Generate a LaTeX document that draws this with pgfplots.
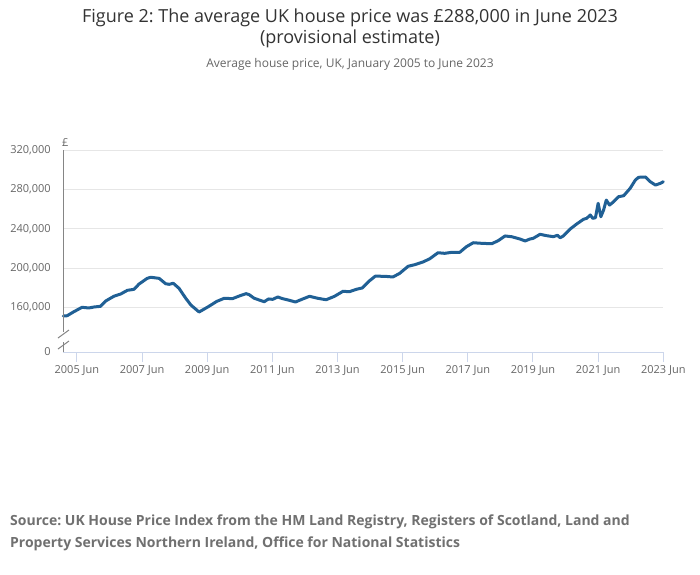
\documentclass[border=0pt]{standalone}
\usepackage{pgfplots}
\pgfplotsset{compat=1.18}
\usepackage{fontspec}
\setmainfont{Open Sans}
\frenchspacing
\definecolor{onsblue}{HTML}{206095}
\definecolor{gridgray}{HTML}{E6E6E6}
\definecolor{axblue}{HTML}{CCD6EB}
\definecolor{labgray}{HTML}{666666}
\definecolor{titlegray}{HTML}{333333}
\definecolor{srcgray}{HTML}{707070}
\begin{document}
\begin{tikzpicture}
\fill[white] (0,0) rectangle (700pt,-574pt);
\useasboundingbox (0,0) rectangle (700pt,-574pt);
\node[text=titlegray,font=\fontsize{18}{21}\selectfont] at (350pt,-18pt) {Figure 2: The average UK house price was £288,000 in June 2023};
\node[text=titlegray,font=\fontsize{18}{21}\selectfont] at (350pt,-39pt) {(provisional estimate)};
\node[text=labgray,font=\fontsize{12}{14}\selectfont] at (350pt,-64pt) {Average house price, UK, January 2005 to June 2023};
\node[text=labgray,font=\fontsize{11}{13}\selectfont,anchor=south west,inner sep=0pt] at (62pt,-147pt) {£};
\begin{axis}[
  at={(63.3pt,-352pt)}, anchor=south west,
  scale only axis, width=600pt, height=201.7pt,
  xmin=0, xmax=221, ymin=114430, ymax=320000,
  axis x line=bottom, axis y line=left,
  x axis line style={-, draw=axblue, line width=1pt},
  y axis line style={draw=none},
  xtick={5,29,53,77,101,125,149,173,197,221},
  xticklabels={2005 Jun,2007 Jun,2009 Jun,2011 Jun,2013 Jun,2015 Jun,2017 Jun,2019 Jun,2021 Jun,2023 Jun},
  xtick align=outside,
  major tick length=10pt,
  xtick style={draw=axblue, line width=1pt},
  ytick={160000,200000,240000,280000,320000},
  yticklabels={{160,000},{200,000},{240,000},{280,000},{320,000}},
  scaled y ticks=false,
  extra y ticks={114430}, extra y tick labels={0},
  extra y tick style={grid=none},
  ytick style={draw=none},
  ymajorgrids, grid style={gridgray, line width=1pt},
  tick label style={text=labgray, font=\fontsize{11}{13}\selectfont},
  yticklabel style={xshift=-4pt},
  /pgf/number format/assume math mode=true,
  clip=false,
]
\addplot[color=onsblue, line width=3pt, line join=round, line cap=round] table {
x y
0 151100
1.4 151400
3.9 155500
6.9 160000
9.4 159300
11.3 160300
13.7 161000
15.6 166400
18.6 171200
21.1 173500
23.6 177300
26.0 178300
27.9 183700
30.9 189500
32.2 190600
35.3 189500
37.7 184000
39.0 183400
40.5 184500
42.6 179400
45.1 169200
47.0 162300
50.0 155200
53.4 160600
56.5 166000
59.3 169200
62.3 168800
64.8 171500
67.3 173900
68.5 172800
70.3 169200
72.2 167400
74.0 165700
75.6 168500
77.1 168100
79.0 170500
80.8 168800
83.3 167100
85.5 165400
88.2 168500
90.7 171200
93.7 169200
96.8 167700
99.9 171200
103.0 176300
105.4 175900
107.9 178300
110.1 179700
112.5 186400
114.9 191700
118.4 191600
121.4 190900
123.9 194600
127.0 201800
129.4 203400
132.5 206200
135.0 209500
138.0 215600
140.5 215000
143.0 216000
146.0 216000
148.5 221800
151.0 225800
154.1 225200
157.8 224800
160.2 227900
162.7 232700
165.2 231900
168.2 229600
170.1 227600
171.9 229600
173.1 230300
175.6 234400
178.0 233000
180.5 232000
182.0 233400
183.0 230900
184.2 232700
186.7 239800
189.1 244900
191.6 249700
192.8 250700
194.1 254100
195.0 250700
196.0 251300
197.0 266000
198.0 252300
199.0 259100
200.0 269300
201.2 264200
202.7 267600
204.5 272700
206.4 273700
208.8 281300
210.7 289700
211.9 292500
214.4 292800
216.2 288000
218.1 284600
220.0 286400
221.0 288000
};
\end{axis}
\draw[labgray!80, line width=1pt] (63.3pt,-150pt) -- (63.3pt,-332pt);
\draw[labgray!80, line width=1pt] (63.3pt,-342pt) -- (63.3pt,-351.5pt);
\draw[labgray!80, line width=1pt] (58pt,-338pt) -- (69pt,-330pt);
\draw[labgray!80, line width=1pt] (58pt,-349pt) -- (69pt,-341pt);
\node[text=srcgray,font=\bfseries\fontsize{14}{22}\selectfont,anchor=west,inner sep=0pt] at (10pt,-522pt) {Source: UK House Price Index from the HM Land Registry, Registers of Scotland, Land and};
\node[text=srcgray,font=\bfseries\fontsize{14}{22}\selectfont,anchor=west,inner sep=0pt] at (10pt,-544pt) {Property Services Northern Ireland, Office for National Statistics};
\end{tikzpicture}
\end{document}
